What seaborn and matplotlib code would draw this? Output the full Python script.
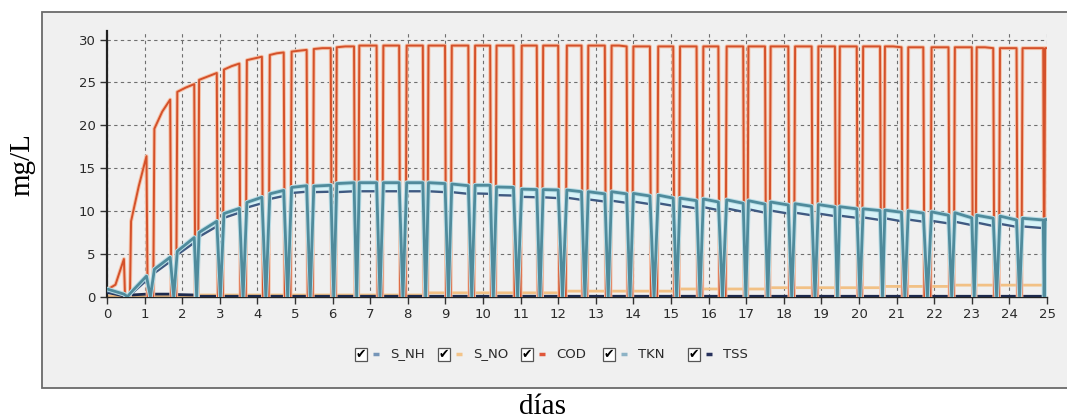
import numpy as np
import pandas as pd
import matplotlib
matplotlib.use("Agg")
import matplotlib.pyplot as plt
import seaborn as sns
from matplotlib.patches import Rectangle
from matplotlib.lines import Line2D
from matplotlib.ticker import MultipleLocator

# ---------------- data ----------------
series_names = ["S_NH", "S_NO", "COD", "TKN", "TSS"]

# start (rise) and end (fall) day of each feeding cycle
rise_day = [0.00, 0.64, 1.26, 1.87, 2.45, 3.11, 3.72, 4.33, 4.91, 5.50,
            6.11, 6.71, 7.35, 7.97, 8.55, 9.17, 9.79, 10.36, 11.03, 11.60,
            12.23, 12.80, 13.42, 14.00, 14.66, 15.24, 15.86, 16.48, 17.06, 17.65,
            18.30, 18.92, 19.49, 20.11, 20.69, 21.31, 21.93, 22.55, 23.13, 23.75,
            24.35, 24.95]
fall_day = [0.45, 1.05, 1.68, 2.32, 2.92, 3.52, 4.12, 4.70, 5.31, 5.95,
            6.57, 7.17, 7.77, 8.40, 8.99, 9.61, 10.19, 10.81, 11.43, 12.00,
            12.62, 13.24, 13.82, 14.44, 15.06, 15.68, 16.26, 16.92, 17.50, 18.12,
            18.74, 19.36, 19.94, 20.56, 21.13, 21.71, 22.38, 23.00, 23.57, 24.19,
            24.90, 25.00]

cod_start = [0.8, 8.8, 19.6, 23.9, 25.3, 26.5, 27.6, 28.2, 28.6, 28.9,
             29.1, 29.3, 29.3, 29.3, 29.3, 29.3, 29.3, 29.3, 29.3, 29.3,
             29.3, 29.3, 29.3, 29.2, 29.2, 29.2, 29.2, 29.2, 29.2, 29.2,
             29.2, 29.2, 29.2, 29.2, 29.2, 29.1, 29.1, 29.1, 29.1, 29.0,
             29.0, 29.0]
cod_mid = [1.4, 12.9, 21.6, 24.4, 25.7, 26.9, 27.8, 28.4, 28.7, 29.0,
           29.2, 29.3, 29.3, 29.3, 29.3, 29.3, 29.3, 29.3, 29.3, 29.3,
           29.3, 29.3, 29.3, 29.2, 29.2, 29.2, 29.2, 29.2, 29.2, 29.2,
           29.2, 29.2, 29.2, 29.2, 29.2, 29.1, 29.1, 29.1, 29.1, 29.0,
           29.0, 29.0]
cod_end = [4.4, 16.4, 23.0, 24.8, 26.1, 27.2, 28.0, 28.5, 28.8, 29.0,
           29.2, 29.3, 29.3, 29.3, 29.3, 29.3, 29.3, 29.3, 29.3, 29.3,
           29.3, 29.3, 29.2, 29.2, 29.2, 29.2, 29.2, 29.2, 29.2, 29.2,
           29.2, 29.2, 29.2, 29.2, 29.1, 29.1, 29.1, 29.1, 29.0, 29.0,
           29.0, 29.0]

tkn_start = [0.9, 0.5, 3.2, 5.3, 7.5, 9.7, 11.0, 12.0, 12.75, 12.9,
             13.2, 13.3, 13.3, 13.3, 13.3, 13.15, 13.0, 12.8, 12.55, 12.5,
             12.45, 12.25, 12.25, 12.05, 11.85, 11.5, 11.4, 11.3, 11.2, 11.05,
             10.85, 10.75, 10.5, 10.25, 10.1, 10.0, 9.9, 9.8, 9.5, 9.4,
             9.15, 9.0]
tkn_end = [0.3, 2.4, 4.6, 6.9, 8.8, 10.3, 11.6, 12.4, 12.95, 13.0,
           13.3, 13.3, 13.3, 13.3, 13.2, 12.95, 13.0, 12.75, 12.5, 12.45,
           12.25, 12.0, 12.0, 11.75, 11.5, 11.2, 11.05, 10.9, 10.8, 10.7,
           10.55, 10.45, 10.25, 10.05, 9.85, 9.75, 9.5, 9.2, 9.15, 8.95,
           8.95, 9.0]

snh_start = [0.6, 0.3, 2.75, 4.9, 7.0, 9.2, 10.4, 11.4, 12.1, 12.2,
             12.2, 12.3, 12.3, 12.3, 12.3, 12.2, 12.05, 11.85, 11.65, 11.6,
             11.55, 11.35, 11.2, 11.1, 10.9, 10.6, 10.45, 10.3, 10.2, 10.05,
             9.8, 9.7, 9.45, 9.25, 9.15, 9.0, 8.85, 8.75, 8.65, 8.5,
             8.2, 8.1]
snh_end = [0.15, 1.9, 4.1, 6.3, 8.2, 9.8, 10.9, 11.75, 12.25, 12.25,
           12.3, 12.3, 12.3, 12.3, 12.2, 12.0, 12.0, 11.8, 11.6, 11.5,
           11.3, 11.1, 10.95, 10.8, 10.6, 10.3, 10.1, 9.9, 9.8, 9.7,
           9.5, 9.4, 9.2, 8.95, 8.8, 8.75, 8.55, 8.35, 8.25, 8.15,
           8.0, 8.1]

sno_level = [0.05, 0.05, 0.05, 0.05, 0.2, 0.2, 0.2, 0.2, 0.2, 0.2,
             0.2, 0.2, 0.2, 0.2, 0.45, 0.45, 0.45, 0.45, 0.45, 0.45,
             0.65, 0.65, 0.65, 0.65, 0.65, 0.9, 0.9, 0.9, 0.9, 1.05,
             1.05, 1.05, 1.05, 1.05, 1.2, 1.2, 1.2, 1.35, 1.35, 1.35,
             1.35, 1.35]
tss_start = [0.5, 0.2, 0.3, 0.25] + [0.05] * 38
tss_end = [0.1, 0.3, 0.3, 0.2] + [0.05] * 38

x_ticks = list(range(0, 26))
y_ticks = [0, 5, 10, 15, 20, 25, 30]

colors = {"S_NH": "#3f5a82", "S_NO": "#f2c185", "COD": "#d4512a",
          "TKN": "#4f8b9c", "TSS": "#1d2a4d"}
legend_colors = {"S_NH": "#7595b8", "S_NO": "#f3c489", "COD": "#e0573a",
                 "TKN": "#8db3c6", "TSS": "#27315c"}

# ---------------- build the cycle traces ----------------
EDGE = 0.03


def trace(start, end, mid=None, gap="flat"):
    xs, ys = [], []
    n = len(rise_day)
    for i in range(n):
        r, f = rise_day[i], fall_day[i]
        if i > 0:
            pf = fall_day[i - 1]
            if gap == "flat":
                a = min(pf + EDGE, (pf + r) / 2)
                b = max(r - EDGE, (pf + r) / 2)
                xs += [a, b]
                ys += [0.0, 0.0]
            elif gap == "v":
                xs.append((pf + r) / 2)
                ys.append(0.0)
        xs.append(r)
        ys.append(start[i])
        if mid is not None:
            xs.append((r + f) / 2)
            ys.append(mid[i])
        xs.append(f)
        ys.append(end[i])
    return xs, ys


frames = []
for name, (s, e, m, g) in {
        "S_NO": (sno_level, sno_level, None, "none"),
        "TSS": (tss_start, tss_end, None, "flat"),
        "COD": (cod_start, cod_end, cod_mid, "flat"),
        "S_NH": (snh_start, snh_end, None, "v"),
        "TKN": (tkn_start, tkn_end, None, "v")}.items():
    xs, ys = trace(s, e, m, g)
    frames.append(pd.DataFrame({"day": xs, "value": ys, "series": name,
                                "idx": np.arange(len(xs))}))
df = pd.concat(frames, ignore_index=True)

# ---------------- figure ----------------
W, H = 1067, 419
sns.set_theme(style="white")
plt.rcParams['font.family'] = ['DejaVu Sans']

fig = plt.figure(figsize=(W / 100, H / 100), dpi=100)
fig.patch.set_facecolor("white")

# grey panel
fig.add_artist(Rectangle((42 / W, (H - 388) / H), (1080 - 42) / W, (388 - 12) / H,
                         transform=fig.transFigure, facecolor="#f0f0f0",
                         edgecolor="#6a6a6a", linewidth=1.3, zorder=0))

ax = fig.add_axes([107 / W, (H - 296.7) / H, (1047 - 107) / W, (296.7 - 31) / H])
ax.set_facecolor("none")

# light band between TKN and S_NH
d_tkn = df[df.series == "TKN"]
d_snh = df[df.series == "S_NH"]
ax.fill_between(d_tkn["day"].to_numpy(), d_snh["value"].to_numpy(),
                d_tkn["value"].to_numpy(), color="#d8f3f8", lw=0, zorder=2)

order_style = [("S_NO", 2.0, 2.5, None), ("TSS", 2.0, 2.6, None),
               ("COD", 1.4, 3, "#f6c2a8"), ("S_NH", 1.7, 4, None),
               ("TKN", 2.0, 4.2, "#b9dde6")]
for name, lw, z, halo in order_style:
    sub = df[df.series == name]
    if halo:
        sns.lineplot(data=sub, x="day", y="value", sort=False, estimator=None,
                     color=halo, linewidth=lw + 1.4, ax=ax, zorder=z - 0.1,
                     legend=False)
    sns.lineplot(data=sub, x="day", y="value", sort=False, estimator=None,
                 color=colors[name], linewidth=lw, ax=ax, zorder=z, legend=False)

ax.set_xlim(0, 25)
ax.set_ylim(0, 31)
ax.set_xticks(x_ticks)
ax.set_yticks(y_ticks)
ax.xaxis.set_minor_locator(MultipleLocator(0.2))
ax.yaxis.set_minor_locator(MultipleLocator(1))
ax.tick_params(axis="both", which="major", direction="out", length=5, width=1,
               color="#333333", labelsize=9.5, labelcolor="#2a2a2a", pad=3)
ax.tick_params(axis="both", which="minor", direction="out", length=3, width=0.8,
               color="#555555")
ax.tick_params(left=True, bottom=True)
ax.grid(True, which="major", color="#6f6f6f", linestyle=(0, (3, 3)), linewidth=0.8)
ax.set_axisbelow(True)
for sp in ["top", "right"]:
    ax.spines[sp].set_visible(False)
ax.spines["left"].set_color("#222222")
ax.spines["left"].set_linewidth(1.6)
ax.spines["bottom"].set_color("#222222")
ax.spines["bottom"].set_linewidth(1.0)
ax.set_xlabel("")
ax.set_ylabel("")

# axis titles (serif, outside the panel)
fig.text(22 / W, 1 - 165 / H, "mg/L", rotation=90, ha="center", va="center",
         family=["Liberation Serif"], fontsize=21, color="black")
fig.text(543 / W, 1 - 407 / H, "días", ha="center", va="center",
         family=["Liberation Serif"], fontsize=21, color="black")

# legend with check boxes
legend_items = [("S_NH", 355), ("S_NO", 438), ("COD", 521), ("TKN", 603), ("TSS", 688)]
ly = 354
for name, x0 in legend_items:
    fig.add_artist(Rectangle((x0 / W, 1 - (ly + 6.5) / H), 12 / W, 13 / H,
                             transform=fig.transFigure, facecolor="white",
                             edgecolor="#555555", linewidth=0.9, zorder=5))
    fig.text((x0 + 6) / W, 1 - (ly + 0.5) / H, "\u2714", ha="center", va="center",
             fontsize=9, color="black", zorder=6)
    fig.add_artist(Line2D([(x0 + 18) / W, (x0 + 24) / W], [1 - ly / H, 1 - ly / H],
                          transform=fig.transFigure, color=legend_colors[name],
                          linewidth=2.5, solid_capstyle="butt", zorder=5))
    fig.text((x0 + 35) / W, 1 - ly / H, name, ha="left", va="center",
             fontsize=9.5, color="#2a2a2a")

fig.savefig("out.png", dpi=100)
